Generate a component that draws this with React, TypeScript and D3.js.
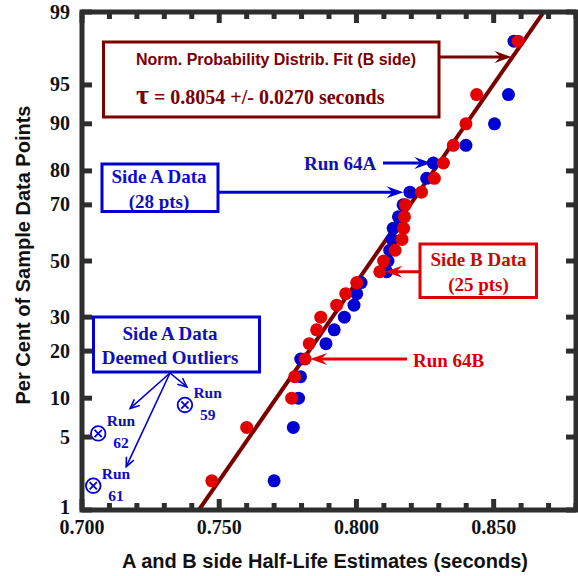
import React from "react";
import * as d3 from "d3";

// Normal probability plot of half-life estimates, A and B sides.
const plotPercent = [2, 6, 10, 14, 18, 22, 26, 30, 34, 38, 42, 46, 50, 54, 58, 62, 66, 70, 74, 78, 82, 86, 90, 94, 98];
const sideBHalfLife = [
  0.7473, 0.76, 0.7764, 0.7775, 0.7813, 0.7828, 0.7855, 0.787, 0.7928, 0.7961, 0.8001, 0.8085, 0.8099,
  0.8141, 0.8166, 0.8172, 0.8175, 0.8178, 0.8237, 0.8284, 0.8317, 0.8353, 0.8399, 0.8438, 0.8589,
];
const sideAHalfLife = [
  0.77, 0.777, 0.7789, 0.7796, 0.7797, 0.7889, 0.7919, 0.7956, 0.7991, 0.8001, 0.8017, 0.811, 0.8115,
  0.8121, 0.813, 0.8134, 0.8153, 0.817, 0.8195, 0.8256, 0.828, 0.8399, 0.8503, 0.8554, 0.8574,
];
const outlierRuns = ["61", "62", "59"];
const outlierHalfLife = [0.7041, 0.7059, 0.7375];
const outlierPercent = [1.79, 5.36, 8.93];

const fitTau = 0.8054;
const fitSigma = 0.027;

const xTicks = [0.7, 0.71, 0.72, 0.73, 0.74, 0.75, 0.76, 0.77, 0.78, 0.79, 0.8, 0.81, 0.82, 0.83, 0.84, 0.85, 0.86, 0.87, 0.88];
const xMajor = [0.7, 0.75, 0.8, 0.85];
const yTicks = [1, 5, 10, 20, 30, 50, 70, 80, 90, 95, 99];

// inverse standard normal CDF (Acklam)
function probit(p: number): number {
  const a = [-39.69683028665376, 220.9460984245205, -275.9285104469687, 138.357751867269, -30.66479806614716, 2.506628277459239];
  const b = [-54.47609879822406, 161.5858368580409, -155.6989798598866, 66.80131188771972, -13.28068155288572];
  const c = [-0.007784894002430293, -0.3223964580411365, -2.400758277161838, -2.549671010466567, 4.374664141464968, 2.938163982698783];
  const d = [0.007784695709041462, 0.3224671290700398, 2.445134137142996, 3.754408661907416];
  const plow = 0.02425;
  if (p < plow) {
    const q = Math.sqrt(-2 * Math.log(p));
    return (((((c[0] * q + c[1]) * q + c[2]) * q + c[3]) * q + c[4]) * q + c[5]) / ((((d[0] * q + d[1]) * q + d[2]) * q + d[3]) * q + 1);
  }
  if (p <= 1 - plow) {
    const q = p - 0.5;
    const r = q * q;
    return ((((((a[0] * r + a[1]) * r + a[2]) * r + a[3]) * r + a[4]) * r + a[5]) * q) / (((((b[0] * r + b[1]) * r + b[2]) * r + b[3]) * r + b[4]) * r + 1);
  }
  const q = Math.sqrt(-2 * Math.log(1 - p));
  return -(((((c[0] * q + c[1]) * q + c[2]) * q + c[3]) * q + c[4]) * q + c[5]) / ((((d[0] * q + d[1]) * q + d[2]) * q + d[3]) * q + 1);
}

const SERIF = "'Liberation Serif', 'Times New Roman', serif";
const SANS = "'Liberation Sans', Arial, sans-serif";
const AXIS = "#2e2e2e";
const MAROON = "#7a0000";
const RED = "#e20000";
const RED_TXT = "#d60000";
const BLUE = "#0000d2";
const BLUE_TXT = "#0d0dc4";

// barbed arrowhead pointing at (tx, ty) along direction angle (radians)
function arrowHead(tx: number, ty: number, ang: number, L = 17, hw = 6, notch = 11) {
  const dx = Math.cos(ang), dy = Math.sin(ang);
  const px = -dy, py = dx;
  const bx = tx - L * dx, by = ty - L * dy;
  const nx = tx - notch * dx, ny = ty - notch * dy;
  return `M${tx},${ty}L${bx + hw * px},${by + hw * py}L${nx},${ny}L${bx - hw * px},${by - hw * py}Z`;
}

function Arrow({ x1, y1, x2, y2, color, w = 3 }: { x1: number; y1: number; x2: number; y2: number; color: string; w?: number }) {
  const ang = Math.atan2(y2 - y1, x2 - x1);
  const ex = x2 - 10 * Math.cos(ang), ey = y2 - 10 * Math.sin(ang);
  return (
    <g>
      <line x1={x1} y1={y1} x2={ex} y2={ey} stroke={color} strokeWidth={w} />
      <path d={arrowHead(x2, y2, ang)} fill={color} />
    </g>
  );
}

function ThinArrow({ x1, y1, x2, y2, color }: { x1: number; y1: number; x2: number; y2: number; color: string }) {
  const ang = Math.atan2(y2 - y1, x2 - x1);
  const L = 10, sp = 0.42;
  const a1x = x2 - L * Math.cos(ang - sp), a1y = y2 - L * Math.sin(ang - sp);
  const a2x = x2 - L * Math.cos(ang + sp), a2y = y2 - L * Math.sin(ang + sp);
  return (
    <g stroke={color} strokeWidth={1.6} fill="none">
      <line x1={x1} y1={y1} x2={x2} y2={y2} />
      <path d={`M${a1x},${a1y}L${x2},${y2}L${a2x},${a2y}`} />
    </g>
  );
}

export default function App() {
  const W = 578, H = 576;
  const left = 82, right = 576, top = 12, bottom = 510;
  const x = d3.scaleLinear().domain([0.7, 0.88]).range([left, right]);
  const zMax = probit(0.99);
  const yz = d3.scaleLinear().domain([-zMax, zMax]).range([bottom, top]);
  const y = (pct: number) => yz(probit(pct / 100));

  const fitLine = d3
    .line<number>()
    .x((p) => x(fitTau + fitSigma * probit(p / 100)))
    .y((p) => y(p))([1, 99]) as string;

  const r = 6.5;

  // arrow targets tied to data points
  const fitArrowY = 57;
  const fitArrowX = x(fitTau + fitSigma * yz.invert(fitArrowY)) - 1;

  return (
    <svg width={W} height={H} style={{ position: "absolute", left: 0, top: 0, background: "#fff" }}>
      <defs>
        <clipPath id="plotClip">
          <rect x={left} y={top} width={right - left} height={bottom - top} />
        </clipPath>
      </defs>

      {/* fit line */}
      <path d={fitLine} stroke={MAROON} strokeWidth={4} fill="none" clipPath="url(#plotClip)" />

      {/* side A points, then side B */}
      {sideAHalfLife.map((v, i) => (
        <circle key={"a" + i} cx={x(v)} cy={y(plotPercent[i])} r={r} fill={BLUE} />
      ))}
      {sideBHalfLife.map((v, i) => (
        <circle key={"b" + i} cx={x(v)} cy={y(plotPercent[i])} r={r} fill={RED} />
      ))}

      {/* outliers */}
      {outlierHalfLife.map((v, i) => {
        const cx = x(v), cy = y(outlierPercent[i]);
        const k = 3.6;
        return (
          <g key={"o" + i}>
            <circle cx={cx} cy={cy} r={7.3} fill="none" stroke={BLUE} strokeWidth={1.8} />
            <path d={`M${cx - k},${cy - k}L${cx + k},${cy + k}M${cx - k},${cy + k}L${cx + k},${cy - k}`} stroke={BLUE} strokeWidth={1.8} />
            <text x={cx + 8.5} y={cy - 7} fontFamily={SERIF} fontWeight="bold" fontSize={15.5} fill={BLUE_TXT}>Run</text>
            <text x={cx + 15} y={cy + 15} fontFamily={SERIF} fontWeight="bold" fontSize={15.5} fill={BLUE_TXT}>{outlierRuns[i]}</text>
          </g>
        );
      })}

      {/* axes box */}
      <rect x={left} y={top} width={right - left} height={bottom - top} fill="none" stroke={AXIS} strokeWidth={5} />
      {xTicks.map((t) => {
        const len = xMajor.some((m) => Math.abs(m - t) < 1e-9) ? 11 : 7;
        return (
          <g key={"xt" + t}>
            <line x1={x(t)} x2={x(t)} y1={bottom} y2={bottom - len} stroke={AXIS} strokeWidth={5} />
            <line x1={x(t)} x2={x(t)} y1={top} y2={top + len} stroke={AXIS} strokeWidth={5} />
          </g>
        );
      })}
      {yTicks.map((t) => (
        <g key={"yt" + t}>
          <line x1={left} x2={left + 10} y1={y(t)} y2={y(t)} stroke={AXIS} strokeWidth={5} />
          <line x1={right} x2={right - 10} y1={y(t)} y2={y(t)} stroke={AXIS} strokeWidth={5} />
          <text x={70} y={y(t) + (t === 1 ? 4 : 6.5)} textAnchor="end" fontFamily={SERIF} fontWeight="bold" fontSize={20} fill="#111">{t}</text>
        </g>
      ))}
      {xMajor.map((t) => (
        <text key={"xl" + t} x={x(t)} y={534} textAnchor="middle" fontFamily={SERIF} fontWeight="bold" fontSize={20} fill="#111">
          {d3.format(".3f")(t)}
        </text>
      ))}

      {/* axis titles */}
      <text x={325} y={568} textAnchor="middle" fontFamily={SANS} fontWeight="bold" fontSize={20} fill="#111">
        A and B side Half-Life Estimates (seconds)
      </text>
      <text transform="translate(30,255) rotate(-90)" textAnchor="middle" fontFamily={SANS} fontWeight="bold" fontSize={20} fill="#111">
        Per Cent of Sample Data Points
      </text>

      {/* fit annotation */}
      <rect x={103.5} y={42} width={335.5} height={75} fill="#fff" stroke={MAROON} strokeWidth={3} />
      <text x={136} y={65} fontFamily={SANS} fontWeight="bold" fontSize={16} fill={MAROON}>
        Norm. Probability Distrib. Fit (B side)
      </text>
      <text x={136} y={103.5} fontFamily={SERIF} fontWeight="bold" fill={MAROON}>
        <tspan fontSize={28}>τ</tspan>
        <tspan fontSize={20}> = 0.8054 +/- 0.0270 seconds</tspan>
      </text>
      <Arrow x1={439} y1={fitArrowY} x2={fitArrowX} y2={fitArrowY} color={MAROON} />

      {/* side A legend */}
      <rect x={102} y={164} width={116} height={47.5} fill="#fff" stroke={BLUE} strokeWidth={3} />
      <text x={159} y={182.5} textAnchor="middle" fontFamily={SERIF} fontWeight="bold" fontSize={19} fill={BLUE_TXT}>Side A Data</text>
      <text x={159} y={207.5} textAnchor="middle" fontFamily={SERIF} fontWeight="bold" fontSize={19} fill={BLUE_TXT}>(28 pts)</text>
      <Arrow x1={218} y1={y(plotPercent[18])} x2={x(sideAHalfLife[18]) - 6.5} y2={y(plotPercent[18])} color={BLUE} />

      <text x={304} y={169.5} fontFamily={SERIF} fontWeight="bold" fontSize={19} fill={BLUE_TXT}>Run 64A</text>
      <Arrow x1={383} y1={y(plotPercent[20])} x2={x(sideAHalfLife[20]) - 2} y2={y(plotPercent[20])} color={BLUE} />

      {/* side B legend */}
      <rect x={420} y={244} width={116.5} height={53.5} fill="#fff" stroke={RED} strokeWidth={3} />
      <text x={478.5} y={266} textAnchor="middle" fontFamily={SERIF} fontWeight="bold" fontSize={19} fill={RED_TXT}>Side B Data</text>
      <text x={478.5} y={291} textAnchor="middle" fontFamily={SERIF} fontWeight="bold" fontSize={19} fill={RED_TXT}>(25 pts)</text>
      <Arrow x1={420} y1={y(plotPercent[11])} x2={x(sideBHalfLife[11]) + 5.5} y2={y(plotPercent[11])} color={RED} />

      <text x={413} y={367} fontFamily={SERIF} fontWeight="bold" fontSize={19} fill={RED_TXT}>Run 64B</text>
      <Arrow x1={407} y1={y(plotPercent[4])} x2={x(sideBHalfLife[4]) + 5} y2={y(plotPercent[4])} color={RED} />

      {/* outlier legend */}
      <rect x={93.5} y={317} width={166} height={55} fill="#fff" stroke={BLUE} strokeWidth={3} />
      <text x={170} y={339.5} textAnchor="middle" fontFamily={SERIF} fontWeight="bold" fontSize={19} fill={BLUE_TXT}>Side A Data</text>
      <text x={170} y={363.5} textAnchor="middle" fontFamily={SERIF} fontWeight="bold" fontSize={19} fill={BLUE_TXT}>Deemed Outliers</text>
      <ThinArrow x1={170} y1={373} x2={x(outlierHalfLife[2]) + 2} y2={y(outlierPercent[2]) - 18} color={BLUE} />
      <ThinArrow x1={170} y1={373} x2={x(outlierHalfLife[1]) + 32} y2={y(outlierPercent[1]) - 25} color={BLUE} />
      <ThinArrow x1={170} y1={373} x2={x(outlierHalfLife[0]) + 33} y2={y(outlierPercent[0]) - 19} color={BLUE} />
    </svg>
  );
}
